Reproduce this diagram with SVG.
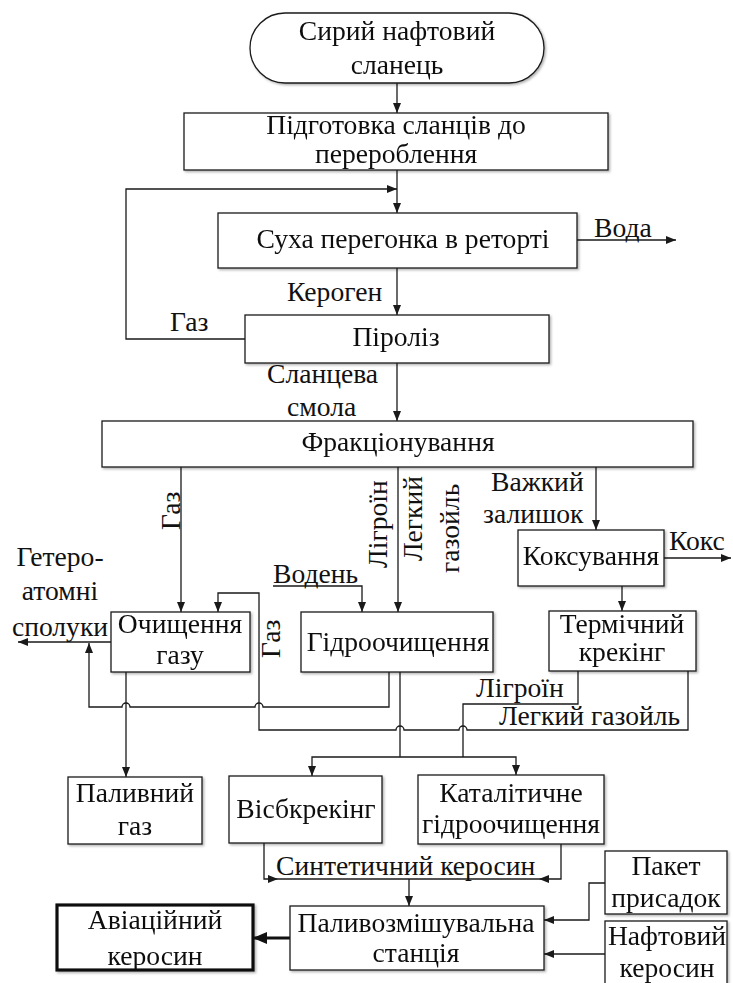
<svg xmlns="http://www.w3.org/2000/svg" width="733" height="983" viewBox="0 0 733 983">
<style>
.b{fill:#fff;stroke:#1a1a1a;stroke-width:1.3}
.t{font-family:"Liberation Serif","Times New Roman",serif;font-size:27.6px;fill:#111;text-anchor:middle}
.s{text-anchor:start}
.c{fill:none;stroke:#1a1a1a;stroke-width:1.3}
.a{marker-end:url(#ar)}
</style>
<defs>
<marker id="ar" markerUnits="userSpaceOnUse" markerWidth="10" markerHeight="8" refX="10" refY="4" orient="auto"><path d="M0,0 L10,4 L0,8 z" fill="#1a1a1a"/></marker>
<marker id="arb" markerUnits="userSpaceOnUse" markerWidth="14" markerHeight="12" refX="13" refY="6" orient="auto"><path d="M0,0 L14,6 L0,12 z" fill="#111"/></marker>
<filter id="sh" x="-5%" y="-5%" width="115%" height="120%"><feDropShadow dx="1.5" dy="1.5" stdDeviation="0.9" flood-color="#000" flood-opacity="0.3"/></filter>
</defs>
<g id="connectors">
<path class="c a" d="M397,83 V113"/>
<path class="c a" d="M397,170 V213"/>
<path class="c a" d="M245,339 H126 V189 H397"/>
<path class="c a" d="M577,240 H676"/>
<path class="c a" d="M397,268 V315"/>
<path class="c a" d="M397,363 V421"/>
<path class="c a" d="M181,467 V612"/>
<path class="c a" d="M398,467 V612"/>
<path class="c a" d="M596,467 V530"/>
<path class="c a" d="M664,558 H731"/>
<path class="c a" d="M622,586 V611"/>
<path class="c a" d="M273,586 H362 V612"/>
<path class="c a" d="M111,642 H18"/>
<path class="c a" d="M389,672 V707 H263 A4,4 0 0 0 255,707 H130 A4,4 0 0 0 122,707 H89 V643"/>
<path class="c a" d="M126,672 V777"/>
<path class="c a" d="M688,671 V730 H467 A4,4 0 0 0 459,730 H404 A4,4 0 0 0 396,730 H259 V593 H218 V612"/>
<path class="c" d="M400,672 V757"/>
<path class="c a" d="M400,757 H312 V776"/>
<path class="c a" d="M400,757 H516 V775"/>
<path class="c" d="M578,671 V704 H463 V757"/>
<path class="c a" d="M264,843 V879 H278"/>
<path class="c" d="M278,879 H539"/>
<path class="c a" d="M561,844 V879 H539"/>
<path class="c a" d="M409,879 V906"/>
<path class="c a" d="M605,883 H589 V920 H544"/>
<path class="c a" d="M605,954 H544"/>
<path d="M290,938 H254" fill="none" stroke="#111" stroke-width="3.2" marker-end="url(#arb)"/>
</g>
<g id="labels">
<text class="t s" x="594" y="237">Вода</text>
<text class="t s" x="287" y="301">Кероген</text>
<text class="t s" x="170" y="331">Газ</text>
<text class="t s" x="267" y="383">Сланцева</text>
<text class="t s" x="287" y="416">смола</text>
<text class="t s" transform="translate(180,530) rotate(-90)">Газ</text>
<text class="t s" transform="translate(387,568) rotate(-90)">Лігроїн</text>
<text class="t s" transform="translate(422,561) rotate(-90)">Легкий</text>
<text class="t s" transform="translate(459,573) rotate(-90)">газойль</text>
<text class="t s" x="491" y="491">Важкий</text>
<text class="t s" x="483" y="523">залишок</text>
<text class="t s" x="669" y="550">Кокс</text>
<text class="t" x="60" y="566">Гетеро-</text>
<text class="t" x="60" y="600">атомні</text>
<text class="t" x="60" y="636">сполуки</text>
<text class="t s" x="273" y="583">Водень</text>
<text class="t s" transform="translate(280,658) rotate(-90)">Газ</text>
<text class="t s" x="476" y="697">Лігроїн</text>
<text class="t s" x="499" y="725">Легкий газойль</text>
<text class="t s" x="276" y="875">Синтетичний керосин</text>
</g>
<g id="n-start" filter="url(#sh)"><rect class="b" x="250" y="13" width="294" height="70" rx="35"/><text class="t" x="397" y="40">Сирий нафтовий</text><text class="t" x="397" y="74">сланець</text></g>
<g id="n-prep" filter="url(#sh)"><rect class="b" x="184" y="113" width="424" height="57"/><text class="t" x="396" y="134">Підготовка сланців до</text><text class="t" x="396" y="163">перероблення</text></g>
<g id="n-retort" filter="url(#sh)"><rect class="b" x="218" y="213" width="359" height="55"/><text class="t" x="403" y="248">Суха перегонка в реторті</text></g>
<g id="n-pyro" filter="url(#sh)"><rect class="b" x="245" y="315" width="304" height="48"/><text class="t" x="396" y="346">Піроліз</text></g>
<g id="n-frac" filter="url(#sh)"><rect class="b" x="102" y="421" width="591" height="46"/><text class="t" x="398" y="451">Фракціонування</text></g>
<g id="n-coke" filter="url(#sh)"><rect class="b" x="518" y="530" width="146" height="56"/><text class="t" x="591" y="565">Коксування</text></g>
<g id="n-gasclean" filter="url(#sh)"><rect class="b" x="111" y="612" width="139" height="60"/><text class="t" x="180" y="633">Очищення</text><text class="t" x="180" y="664">газу</text></g>
<g id="n-hydro" filter="url(#sh)"><rect class="b" x="301" y="612" width="192" height="60"/><text class="t" x="398" y="651">Гідроочищення</text></g>
<g id="n-thermal" filter="url(#sh)"><rect class="b" x="549" y="611" width="147" height="60"/><text class="t" x="622" y="633">Термічний</text><text class="t" x="622" y="661">крекінг</text></g>
<g id="n-fuelgas" filter="url(#sh)"><rect class="b" x="68" y="777" width="134" height="67"/><text class="t" x="135" y="802">Паливний</text><text class="t" x="135" y="835">газ</text></g>
<g id="n-visb" filter="url(#sh)"><rect class="b" x="229" y="776" width="153" height="67"/><text class="t" x="306" y="818">Вісбкрекінг</text></g>
<g id="n-cat" filter="url(#sh)"><rect class="b" x="418" y="775" width="186" height="69"/><text class="t" x="511" y="802">Каталітичне</text><text class="t" x="511" y="833">гідроочищення</text></g>
<g id="n-additives" filter="url(#sh)"><rect class="b" x="605" y="851" width="122" height="63"/><text class="t" x="666" y="875">Пакет</text><text class="t" x="666" y="907">присадок</text></g>
<g id="n-petker" filter="url(#sh)"><rect class="b" x="605" y="921" width="122" height="70"/><text class="t" x="667" y="945">Нафтовий</text><text class="t" x="667" y="977">керосин</text></g>
<g id="n-blend" filter="url(#sh)"><rect class="b" x="290" y="906" width="254" height="64"/><text class="t" x="416" y="932">Паливозмішувальна</text><text class="t" x="416" y="962">станція</text></g>
<g id="n-avker" filter="url(#sh)"><rect x="57" y="905" width="196" height="65" fill="#fff" stroke="#111" stroke-width="3.2"/><text class="t" x="155" y="929">Авіаційний</text><text class="t" x="155" y="965">керосин</text></g>
</svg>
